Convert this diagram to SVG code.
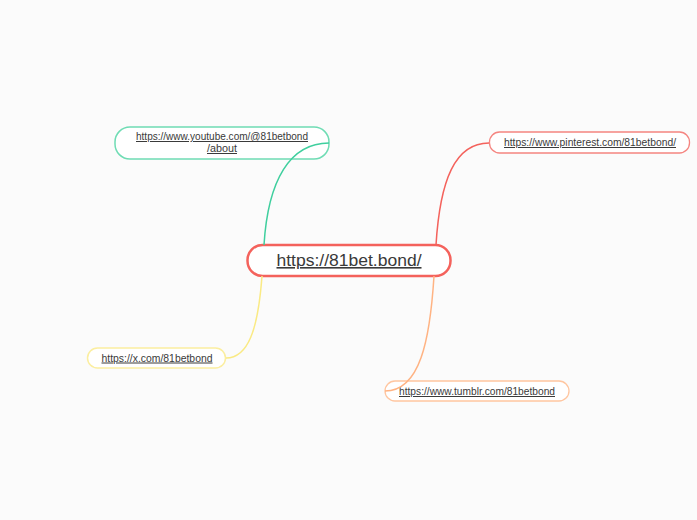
<svg xmlns="http://www.w3.org/2000/svg" width="697" height="520" viewBox="0 0 697 520">
<style>
.t{font-family:"Liberation Sans","DejaVu Sans",sans-serif;fill:#3a3a3a;text-decoration:underline;text-anchor:middle}
.s{font-size:10px}
.c{fill:none;stroke-width:1.5}
.n{fill:#ffffff}
</style>
<rect width="697" height="520" fill="#fbfbfb"/>
<g id="root">
<rect x="247.5" y="245" width="203" height="31" rx="15" class="n" stroke="#f4625c" stroke-width="2.5"/>
<text class="t" x="349" y="266" font-size="16" textLength="145" lengthAdjust="spacingAndGlyphs">https://81bet.bond/</text>
</g>
<g id="youtube">
<rect x="115" y="127" width="214" height="32" rx="15" class="n" stroke="#6fdcb4" stroke-width="1.5"/>
<text class="t s" x="222" y="140" textLength="172" lengthAdjust="spacingAndGlyphs">https://www.youtube.com/@81betbond</text>
<text class="t s" x="222" y="152" textLength="30" lengthAdjust="spacingAndGlyphs">/about</text>
</g>
<g id="pinterest">
<rect x="489.5" y="132" width="200" height="21" rx="10" class="n" stroke="#f58580" stroke-width="1.3"/>
<text class="t s" x="590" y="146" textLength="172" lengthAdjust="spacingAndGlyphs">https://www.pinterest.com/81betbond/</text>
</g>
<g id="x">
<rect x="87.5" y="348" width="138" height="20" rx="10" class="n" stroke="#fbeea0" stroke-width="1.5"/>
<text class="t s" x="157" y="361.5" textLength="111" lengthAdjust="spacingAndGlyphs">https://x.com/81betbond</text>
</g>
<g id="tumblr">
<rect x="385" y="381" width="184" height="20" rx="10" class="n" stroke="#ffc6a0" stroke-width="1.3"/>
<text class="t s" x="477" y="395" textLength="156" lengthAdjust="spacingAndGlyphs">https://www.tumblr.com/81betbond</text>
</g>
<g id="connectors">
<path class="c" stroke="#3fcf9e" d="M264,245 C268,180 290,143 329,143"/>
<path class="c" stroke="#f4625c" d="M436,245 C440,180 455,143 489,143"/>
<path class="c" stroke="#faea84" d="M262,276 C258,330 248,358 226,358"/>
<path class="c" stroke="#ffb383" d="M434,276 C430,340 420,391 385,391"/>
</g>
</svg>
